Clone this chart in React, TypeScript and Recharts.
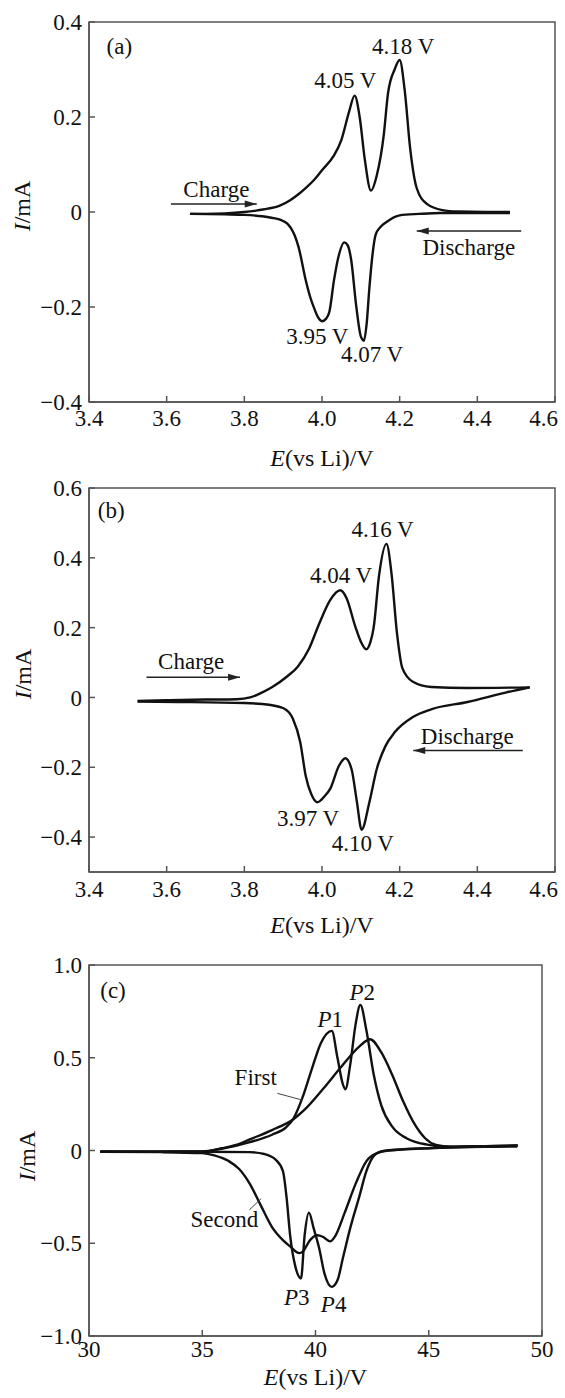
import React from 'react';
import { LineChart, Line, XAxis, YAxis, ReferenceArea, ReferenceDot, ReferenceLine, Label } from 'recharts';

const FONT = "'Liberation Serif', 'DejaVu Serif', 'Times New Roman', serif";
const INK = '#111';
const AXIS = '#555';

// ---------- Panel (a) ----------
const aChargeE = [3.66, 3.70, 3.75, 3.80, 3.83, 3.86, 3.89, 3.92, 3.94, 3.96, 3.98, 4.00, 4.03, 4.05, 4.07, 4.084, 4.097, 4.11, 4.126, 4.141, 4.159, 4.17, 4.187, 4.20, 4.213, 4.227, 4.244, 4.27, 4.31, 4.35, 4.42, 4.484];
const aChargeI = [-0.004, -0.004, -0.003, 0.0, 0.003, 0.007, 0.013, 0.026, 0.038, 0.052, 0.068, 0.088, 0.118, 0.152, 0.212, 0.245, 0.20, 0.112, 0.045, 0.077, 0.162, 0.25, 0.30, 0.32, 0.256, 0.134, 0.05, 0.017, 0.004, 0.001, 0.0, 0.0];
const aDischargeE = [3.66, 3.75, 3.80, 3.846, 3.87, 3.892, 3.91, 3.92, 3.93, 3.94, 3.958, 3.97, 3.98, 3.99, 4.0, 4.01, 4.019, 4.031, 4.044, 4.057, 4.066, 4.075, 4.088, 4.10, 4.108, 4.115, 4.122, 4.13, 4.138, 4.15, 4.166, 4.2, 4.25, 4.306, 4.484];
const aDischargeI = [-0.004, -0.005, -0.006, -0.009, -0.012, -0.016, -0.024, -0.034, -0.05, -0.075, -0.143, -0.18, -0.203, -0.222, -0.23, -0.225, -0.21, -0.143, -0.089, -0.064, -0.07, -0.10, -0.197, -0.262, -0.271, -0.235, -0.16, -0.09, -0.048, -0.032, -0.021, -0.007, -0.004, -0.002, -0.002];
const aXTicks = [3.4, 3.6, 3.8, 4.0, 4.2, 4.4, 4.6];
const aYTicks = [-0.4, -0.2, 0, 0.2, 0.4];

// ---------- Panel (b) ----------
const bChargeE = [3.525, 3.6, 3.7, 3.78, 3.815, 3.845, 3.872, 3.91, 3.938, 3.966, 3.993, 4.021, 4.047, 4.063, 4.086, 4.1, 4.114, 4.125, 4.133, 4.147, 4.166, 4.179, 4.193, 4.207, 4.234, 4.281, 4.375, 4.535];
const bChargeI = [-0.01, -0.008, -0.006, -0.005, 0.0, 0.014, 0.03, 0.06, 0.089, 0.138, 0.212, 0.279, 0.307, 0.285, 0.202, 0.16, 0.138, 0.16, 0.2, 0.35, 0.44, 0.355, 0.185, 0.084, 0.045, 0.03, 0.027, 0.029];
const bDischargeE = [3.525, 3.629, 3.8, 3.864, 3.901, 3.925, 3.944, 3.958, 3.972, 3.988, 4.005, 4.021, 4.044, 4.06, 4.076, 4.09, 4.102, 4.122, 4.141, 4.164, 4.187, 4.234, 4.281, 4.375, 4.473, 4.535];
const bDischargeI = [-0.012, -0.013, -0.016, -0.021, -0.031, -0.061, -0.128, -0.224, -0.276, -0.30, -0.285, -0.262, -0.195, -0.174, -0.205, -0.3, -0.379, -0.3, -0.205, -0.138, -0.1, -0.056, -0.034, -0.013, 0.014, 0.029];
const bXTicks = [3.4, 3.6, 3.8, 4.0, 4.2, 4.4, 4.6];
const bYTicks = [-0.4, -0.2, 0, 0.2, 0.4, 0.6];

// ---------- Panel (c) ----------
const cSharpChargeE = [30.5, 33, 35, 35.85, 37.1, 38.08, 38.7, 39.04, 39.44, 39.84, 40.24, 40.72, 40.97, 41.21, 41.32, 41.53, 41.77, 41.98, 42.25, 42.57, 42.9, 43.38, 44.02, 45.0, 45.63, 47, 48.93];
const cSharpChargeI = [-0.007, -0.006, -0.005, 0.009, 0.045, 0.085, 0.125, 0.175, 0.29, 0.44, 0.58, 0.645, 0.50, 0.356, 0.33, 0.46, 0.68, 0.785, 0.645, 0.41, 0.245, 0.13, 0.066, 0.03, 0.02, 0.022, 0.027];
const cBroadChargeE = [30.5, 33, 35, 35.85, 36.5, 37.1, 38.08, 39.04, 39.52, 40.32, 41.13, 41.93, 42.41, 42.9, 43.38, 43.87, 44.35, 44.84, 45.32, 45.95, 47, 48.93];
const cBroadChargeI = [-0.007, -0.007, -0.006, 0.012, 0.03, 0.06, 0.11, 0.17, 0.22, 0.33, 0.45, 0.56, 0.60, 0.53, 0.41, 0.265, 0.147, 0.066, 0.03, 0.02, 0.022, 0.027];
const cSharpDischargeE = [30.5, 33, 35, 37.1, 37.74, 38.24, 38.56, 38.72, 38.88, 39.12, 39.36, 39.52, 39.71, 39.92, 40.16, 40.4, 40.72, 40.97, 41.21, 41.53, 41.93, 42.25, 42.57, 42.9, 43.54, 45.16, 48.9];
const cSharpDischargeI = [-0.007, -0.007, -0.007, -0.009, -0.019, -0.049, -0.11, -0.25, -0.457, -0.63, -0.69, -0.457, -0.335, -0.42, -0.526, -0.665, -0.735, -0.70, -0.58, -0.42, -0.25, -0.11, -0.03, -0.005, 0.004, 0.013, 0.023];
const cBroadDischargeE = [30.5, 33.2, 35, 35.53, 36.17, 36.63, 37.1, 37.6, 38.08, 38.56, 38.88, 39.28, 39.44, 39.76, 40.08, 40.32, 40.64, 40.89, 41.29, 41.77, 42.25, 42.73, 43.22, 45.16, 48.9];
const cBroadDischargeI = [-0.007, -0.009, -0.014, -0.026, -0.057, -0.10, -0.18, -0.30, -0.413, -0.483, -0.517, -0.553, -0.545, -0.483, -0.457, -0.465, -0.49, -0.457, -0.335, -0.18, -0.057, -0.014, 0.0, 0.013, 0.023];
const cXTicks = [30, 35, 40, 45, 50];
const cYTicks = [-1, -0.5, 0, 0.5, 1];

const zip = (xs: number[], ys: number[]) => xs.map((x, i) => ({ x, y: ys[i] }));

const fmt1 = (v: number) => (v === 0 ? '0' : (v < 0 ? '\u2212' : '') + Math.abs(v).toFixed(1));
const fmt0 = (v: number) => String(v);

const textStyle = { fontFamily: FONT };

type Part = { t: string; i?: boolean };
const txt = (parts: Part[], size = 23) => (p: any) => (
  <text x={p.cx} y={p.cy} textAnchor="middle" dominantBaseline="central" style={textStyle} fontSize={size} fill={INK}>
    {parts.map((s, k) => (
      <tspan key={k} fontStyle={s.i ? 'italic' : 'normal'}>{s.t}</tspan>
    ))}
  </text>
);

const head = (dir: number) => (p: any) => (
  <polygon
    points={`${p.cx},${p.cy} ${p.cx - dir * 12},${p.cy - 3.5} ${p.cx - dir * 12},${p.cy + 3.5}`}
    fill="#222"
  />
);

// x tick: keeps the last label inside the picture
const makeXTick = (fmt: (v: number) => string, maxV: number, shiftLast: boolean) => (props: any) => {
  const { x, y, payload } = props;
  const last = shiftLast && payload.value === maxV;
  return (
    <text
      x={last ? x + 3 : x}
      y={y}
      dy="0.71em"
      textAnchor={last ? 'end' : 'middle'}
      style={textStyle}
      fontSize={23}
      fill={INK}
    >
      {fmt(payload.value)}
    </text>
  );
};

const yTick = (props: any) => {
  const { x, y, payload } = props;
  return (
    <text x={x} y={y} dy="0.35em" textAnchor="end" style={textStyle} fontSize={23} fill={INK}>
      {fmt1(payload.value)}
    </text>
  );
};

const xTitle = (dy: number) => (props: any) => {
  const vb = props.viewBox || { x: 89, y: 0, width: 466 };
  return (
    <text x={vb.x + vb.width / 2} y={vb.y + dy} textAnchor="middle" dominantBaseline="central" style={textStyle} fontSize={24} fill={INK}>
      <tspan fontStyle="italic">E</tspan>
      <tspan>(vs Li)/V</tspan>
    </text>
  );
};

const yTitle = (cx: number, cy: number) => () => (
  <text x={cx} y={cy} transform={`rotate(-90, ${cx}, ${cy})`} textAnchor="middle" dominantBaseline="central" style={textStyle} fontSize={24} fill={INK}>
    <tspan fontStyle="italic">I</tspan>
    <tspan>/mA</tspan>
  </text>
);

const lineProps = {
  type: 'monotone' as const,
  dataKey: 'y',
  stroke: INK,
  strokeWidth: 2.4,
  dot: false,
  isAnimationActive: false,
};

function axes(
  xDomain: [number, number],
  xTicks: number[],
  xFmt: (v: number) => string,
  shiftLast: boolean,
  yDomain: [number, number],
  yTicks: number[],
  xTickMargin: number,
  titleDy: number,
  yTitleCx: number,
  yTitleCy: number
) {
  return [
    <XAxis
      key="x"
      type="number"
      dataKey="x"
      domain={xDomain}
      ticks={xTicks}
      interval={0}
      allowDataOverflow
      height={40}
      tickSize={-6}
      tickMargin={xTickMargin}
      axisLine={{ stroke: AXIS, strokeWidth: 1.5 }}
      tickLine={{ stroke: AXIS, strokeWidth: 1.5 }}
      tick={makeXTick(xFmt, xDomain[1], shiftLast)}
    >
      <Label content={xTitle(titleDy)} />
    </XAxis>,
    <YAxis
      key="y"
      type="number"
      domain={yDomain}
      ticks={yTicks}
      interval={0}
      allowDataOverflow
      width={60}
      tickSize={-6}
      tickMargin={13}
      axisLine={{ stroke: AXIS, strokeWidth: 1.5 }}
      tickLine={{ stroke: AXIS, strokeWidth: 1.5 }}
      tick={yTick}
    >
      <Label content={yTitle(yTitleCx, yTitleCy)} />
    </YAxis>,
    <ReferenceArea
      key="box"
      x1={xDomain[0]}
      x2={xDomain[1]}
      y1={yDomain[0]}
      y2={yDomain[1]}
      fill="none"
      fillOpacity={0}
      stroke={AXIS}
      strokeWidth={1.5}
      ifOverflow="visible"
    />,
  ];
}

function PanelA() {
  return (
    <LineChart width={565} height={480} margin={{ top: 22, right: 10, bottom: 38, left: 29 }}>
      {axes([3.4, 4.6], aXTicks, fmt1, true, [-0.4, 0.4], aYTicks, 14, 56, 22, 206)}
      <Line {...lineProps} data={zip(aChargeE, aChargeI)} />
      <Line {...lineProps} data={zip(aDischargeE, aDischargeI)} />
      <ReferenceDot x={3.478} y={0.35} r={0} shape={txt([{ t: '(a)' }])} ifOverflow="visible" />
      <ReferenceDot x={4.06} y={0.277} r={0} shape={txt([{ t: '4.05 V' }])} ifOverflow="visible" />
      <ReferenceDot x={4.209} y={0.35} r={0} shape={txt([{ t: '4.18 V' }])} ifOverflow="visible" />
      <ReferenceDot x={3.988} y={-0.26} r={0} shape={txt([{ t: '3.95 V' }])} ifOverflow="visible" />
      <ReferenceDot x={4.129} y={-0.298} r={0} shape={txt([{ t: '4.07 V' }])} ifOverflow="visible" />
      <ReferenceDot x={3.728} y={0.049} r={0} shape={txt([{ t: 'Charge' }])} ifOverflow="visible" />
      <ReferenceLine segment={[{ x: 3.611, y: 0.017 }, { x: 3.832, y: 0.017 }]} stroke="#222" strokeWidth={1.4} ifOverflow="visible" />
      <ReferenceDot x={3.832} y={0.017} r={0} shape={head(1)} ifOverflow="visible" />
      <ReferenceDot x={4.378} y={-0.074} r={0} shape={txt([{ t: 'Discharge' }])} ifOverflow="visible" />
      <ReferenceLine segment={[{ x: 4.244, y: -0.04 }, { x: 4.513, y: -0.04 }]} stroke="#222" strokeWidth={1.4} ifOverflow="visible" />
      <ReferenceDot x={4.244} y={-0.04} r={0} shape={head(-1)} ifOverflow="visible" />
    </LineChart>
  );
}

function PanelB() {
  return (
    <LineChart width={565} height={480} margin={{ top: 22, right: 10, bottom: 34, left: 29 }}>
      {axes([3.4, 4.6], bXTicks, fmt1, true, [-0.5, 0.6], bYTicks, 15, 53, 23, 208)}
      <Line {...lineProps} data={zip(bChargeE, bChargeI)} />
      <Line {...lineProps} data={zip(bDischargeE, bDischargeI)} />
      <ReferenceDot x={3.457} y={0.537} r={0} shape={txt([{ t: '(b)' }])} ifOverflow="visible" />
      <ReferenceDot x={4.156} y={0.482} r={0} shape={txt([{ t: '4.16 V' }])} ifOverflow="visible" />
      <ReferenceDot x={4.049} y={0.351} r={0} shape={txt([{ t: '4.04 V' }])} ifOverflow="visible" />
      <ReferenceDot x={3.964} y={-0.346} r={0} shape={txt([{ t: '3.97 V' }])} ifOverflow="visible" />
      <ReferenceDot x={4.105} y={-0.417} r={0} shape={txt([{ t: '4.10 V' }])} ifOverflow="visible" />
      <ReferenceDot x={3.663} y={0.104} r={0} shape={txt([{ t: 'Charge' }])} ifOverflow="visible" />
      <ReferenceLine segment={[{ x: 3.548, y: 0.058 }, { x: 3.789, y: 0.058 }]} stroke="#222" strokeWidth={1.4} ifOverflow="visible" />
      <ReferenceDot x={3.789} y={0.058} r={0} shape={head(1)} ifOverflow="visible" />
      <ReferenceDot x={4.374} y={-0.109} r={0} shape={txt([{ t: 'Discharge' }])} ifOverflow="visible" />
      <ReferenceLine segment={[{ x: 4.235, y: -0.152 }, { x: 4.517, y: -0.152 }]} stroke="#222" strokeWidth={1.4} ifOverflow="visible" />
      <ReferenceDot x={4.235} y={-0.152} r={0} shape={head(-1)} ifOverflow="visible" />
    </LineChart>
  );
}

function PanelC() {
  return (
    <LineChart width={565} height={455} margin={{ top: 22, right: 23, bottom: 22, left: 29 }}>
      {axes([30, 50], cXTicks, fmt0, false, [-1, 1], cYTicks, 11, 41, 27, 213)}
      <Line {...lineProps} data={zip(cBroadChargeE, cBroadChargeI)} />
      <Line {...lineProps} data={zip(cSharpChargeE, cSharpChargeI)} />
      <Line {...lineProps} data={zip(cBroadDischargeE, cBroadDischargeI)} />
      <Line {...lineProps} data={zip(cSharpDischargeE, cSharpDischargeI)} />
      <ReferenceDot x={31.06} y={0.863} r={0} shape={txt([{ t: '(c)' }])} ifOverflow="visible" />
      <ReferenceDot x={40.65} y={0.71} r={0} shape={txt([{ t: 'P', i: true }, { t: '1' }])} ifOverflow="visible" />
      <ReferenceDot x={42.06} y={0.853} r={0} shape={txt([{ t: 'P', i: true }, { t: '2' }])} ifOverflow="visible" />
      <ReferenceDot x={39.17} y={-0.79} r={0} shape={txt([{ t: 'P', i: true }, { t: '3' }])} ifOverflow="visible" />
      <ReferenceDot x={40.8} y={-0.826} r={0} shape={txt([{ t: 'P', i: true }, { t: '4' }])} ifOverflow="visible" />
      <ReferenceDot x={37.36} y={0.394} r={0} shape={txt([{ t: 'First' }])} ifOverflow="visible" />
      <ReferenceLine segment={[{ x: 38.32, y: 0.308 }, { x: 39.41, y: 0.272 }]} stroke="#444" strokeWidth={1} ifOverflow="visible" />
      <ReferenceDot x={35.98} y={-0.37} r={0} shape={txt([{ t: 'Second' }])} ifOverflow="visible" />
      <ReferenceLine segment={[{ x: 37.08, y: -0.32 }, { x: 37.6, y: -0.26 }]} stroke="#444" strokeWidth={1} ifOverflow="visible" />
    </LineChart>
  );
}

export default function App() {
  return (
    <div style={{ position: 'absolute', left: 0, top: 0, width: 565, height: 1398, background: '#fff', overflow: 'hidden', fontFamily: FONT }}>
      <div style={{ position: 'absolute', left: 0, top: 0 }}>
        <PanelA />
      </div>
      <div style={{ position: 'absolute', left: 0, top: 466 }}>
        <PanelB />
      </div>
      <div style={{ position: 'absolute', left: 0, top: 943 }}>
        <PanelC />
      </div>
    </div>
  );
}
